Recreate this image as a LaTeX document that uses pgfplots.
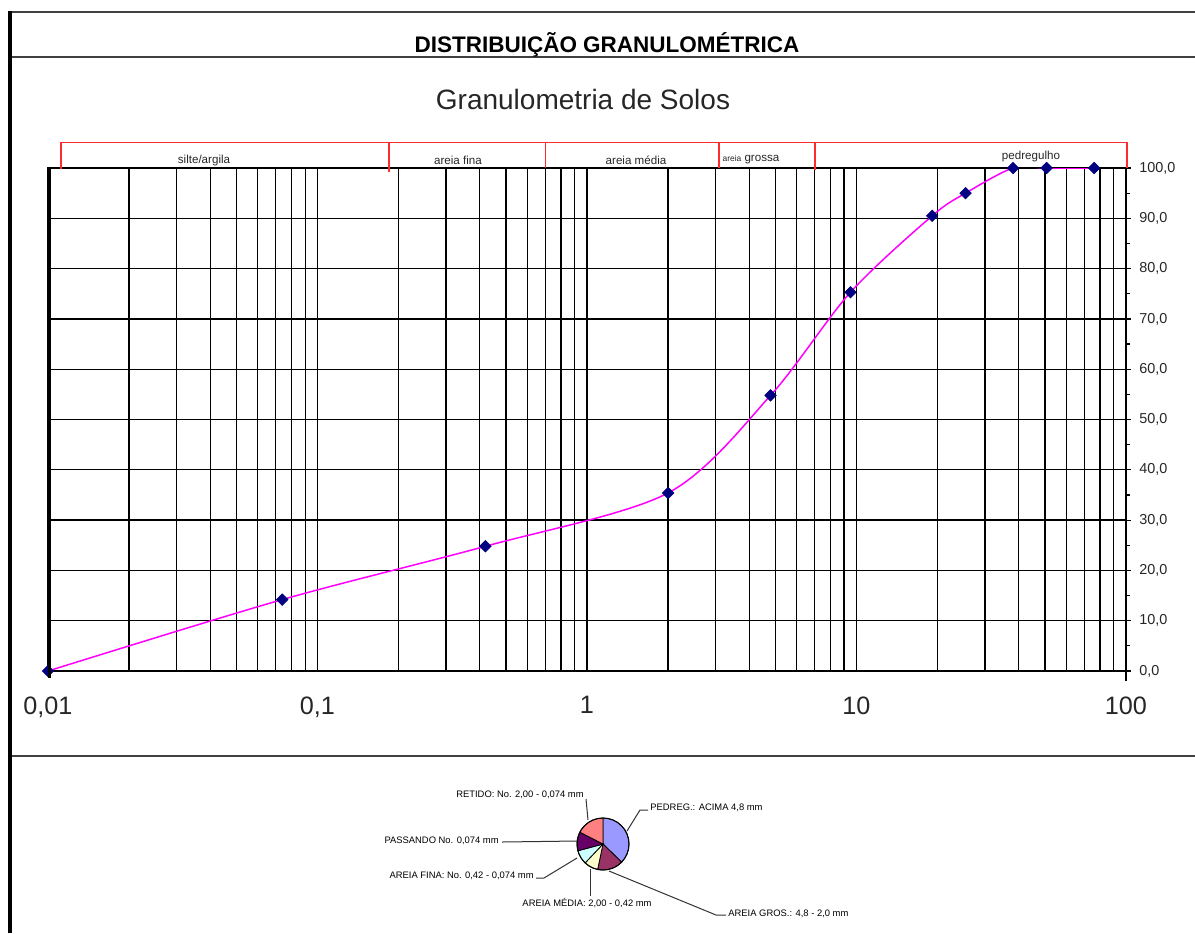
\documentclass[border=0pt]{standalone}
\usepackage{fontspec}
\setmainfont{Liberation Sans}
\usepackage{pgfplots}
\pgfplotsset{compat=1.18}
\definecolor{navy}{HTML}{000080}
\definecolor{curve}{RGB}{255,0,255}
\definecolor{bandred}{HTML}{FF2A2A}
\definecolor{pPed}{HTML}{9999FF}
\definecolor{pGros}{HTML}{993366}
\definecolor{pMed}{HTML}{FFFFCC}
\definecolor{pFina}{HTML}{CCFFFF}
\definecolor{pPass}{HTML}{660066}
\definecolor{pRet}{HTML}{FF8080}
\begin{document}
\begin{tikzpicture}[x=0.5pt,y=-0.5pt]
\path[use as bounding box] (0,0) rectangle (1195,933);
% frame
\draw[line width=0.8pt, black!75] (10,12) -- (1195,12);
\draw[line width=0.8pt, black!75] (10,57) -- (1195,57);
\draw[line width=0.8pt, black!75] (10,756) -- (1195,756);
\draw[line width=2pt, black] (10,11) -- (10,933);
\node[font=\bfseries\fontsize{11.25}{13}\selectfont, anchor=base, inner sep=0pt] at (607,52) {DISTRIBUIÇÃO GRANULOMÉTRICA};
\node[font=\fontsize{14}{16}\selectfont, anchor=base, inner sep=0pt, black!85] at (583,109) {Granulometria de Solos};

\begin{axis}[
  at={(24pt,-335.5pt)}, anchor=south west,
  scale only axis, width=539pt, height=251.5pt,
  xmode=log, xmin=0.01, xmax=100, ymin=0, ymax=100,
  xtick={0.01,0.1,1,10,100},
  xticklabels={{0,01},{0,1},1,10,100},
  minor xtick={0.02,0.03,0.04,0.05,0.06,0.07,0.08,0.09,0.2,0.3,0.4,0.5,0.6,0.7,0.8,0.9,2,3,4,5,6,7,8,9,20,30,40,50,60,70,80,90},
  ytick={0,10,20,30,40,50,60,70,80,90,100},
  yticklabels={{0,0},{10,0},{20,0},{30,0},{40,0},{50,0},{60,0},{70,0},{80,0},{90,0},{100,0}},
  minor ytick={5,15,25,35,45,55,65,75,85,95},
  xmajorgrids, xminorgrids, ymajorgrids,
  major grid style={black, line width=0.65pt},
  minor grid style={black, line width=0.65pt},
  ytick pos=right, yticklabel pos=right,
  tick align=outside,
  major tick length=2.5pt, minor tick length=2pt,
  y tick style={black, line width=0.6pt},
  x tick style={draw=none},
  axis line style={black, line width=0.65pt},
  xticklabel style={font=\fontsize{12.6}{14}\selectfont, inner sep=0pt, anchor=north, yshift=-10pt, black!85},
  yticklabel style={font=\fontsize{7.2}{8}\selectfont, inner sep=0pt, anchor=west, xshift=4pt, black!85},
]
\addplot[curve, line width=0.75pt, smooth, no marks] coordinates {
 (0.01,0) (0.074,14.2) (0.42,24.8) (2.0,35.4) (4.8,54.8) (9.5,75.3)
 (19.1,90.5) (25.4,95.0) (38.1,100) (50.8,100) (76.2,100)};
\addplot[only marks, mark=square*, mark size=2pt, mark options={rotate=45, fill=navy, draw=navy}] coordinates {
 (0.01,0) (0.074,14.2) (0.42,24.8) (2.0,35.4) (4.8,54.8) (9.5,75.3)
 (19.1,90.5) (25.4,95.0) (38.1,100) (50.8,100) (76.2,100)};
\end{axis}
% thick left axis line and bottom extension of right axis
\draw[line width=1.5pt, black] (49,168) -- (49,678);
\draw[line width=0.65pt, black] (1126,671) -- (1126,681);
% red band
\draw[bandred, line width=0.8pt] (61,169) -- (61,142.5) -- (1127,142.5) -- (1127,168);
\draw[bandred, line width=0.8pt] (389,142.5) -- (389,172);
\draw[bandred, line width=0.8pt] (545.4,142.5) -- (545.4,168);
\draw[bandred, line width=0.8pt] (718.7,142.5) -- (718.7,168);
\draw[bandred, line width=0.8pt] (815,142.5) -- (815,170);
\begin{scope}[every node/.style={font=\fontsize{5.8}{6}\selectfont, inner sep=0pt, black!85}]
\node at (204,160) {silte/argila};
\node at (458,160) {areia fina};
\node at (636,160) {areia média};
\node at (751,160) {{\fontsize{4.2}{5}\selectfont areia} grossa};
\node at (1031,156) {pedregulho};
\end{scope}
% pie chart
\pgfmathsetmacro\aA{90-45.2/121.2*360}
\pgfmathsetmacro\aB{\aA-19.4/121.2*360}
\pgfmathsetmacro\aC{\aB-10.6/121.2*360}
\pgfmathsetmacro\aD{\aC-10.6/121.2*360}
\pgfmathsetmacro\aE{\aD-14.2/121.2*360}
\begin{axis}[at={(301.5pt,-422pt)}, anchor=center, hide axis, scale only axis,
  width=26pt, height=26pt, xmin=-1, xmax=1, ymin=-1, ymax=1, clip=false]
\fill[pPed, draw=black, line width=0.4pt] (axis cs:0,0) -- ++(90:13pt) arc[start angle=90, end angle=\aA, radius=13pt] -- cycle;
\fill[pGros, draw=black, line width=0.4pt] (axis cs:0,0) -- ++(\aA:13pt) arc[start angle=\aA, end angle=\aB, radius=13pt] -- cycle;
\fill[pMed, draw=black, line width=0.4pt] (axis cs:0,0) -- ++(\aB:13pt) arc[start angle=\aB, end angle=\aC, radius=13pt] -- cycle;
\fill[pFina, draw=black, line width=0.4pt] (axis cs:0,0) -- ++(\aC:13pt) arc[start angle=\aC, end angle=\aD, radius=13pt] -- cycle;
\fill[pPass, draw=black, line width=0.4pt] (axis cs:0,0) -- ++(\aD:13pt) arc[start angle=\aD, end angle=\aE, radius=13pt] -- cycle;
\fill[pRet, draw=black, line width=0.4pt] (axis cs:0,0) -- ++(\aE:13pt) arc[start angle=\aE, end angle=-270, radius=13pt] -- cycle;
\draw[black, line width=0.5pt] (axis cs:0,0) circle[radius=13pt];
\end{axis}
% leader lines and labels
\begin{scope}[black!80, line width=0.5pt]
\draw (627,831) -- (640,810) -- (648,810);
\draw (609,871) -- (716,915) -- (726,915);
\draw (590,869) -- (590,896);
\draw (577,858) -- (544,878) -- (536,878);
\draw (577,841) -- (502,842);
\draw (588,820) -- (586,799);
\end{scope}
\begin{scope}[every node/.style={font=\fontsize{4.7}{5}\selectfont, inner sep=0pt, black}]
\node[anchor=west] at (650,808) {PEDREG.: ACIMA 4,8 mm};
\node[anchor=west] at (728,914) {AREIA GROS.: 4,8 - 2,0 mm};
\node at (587,903) {AREIA MÉDIA: 2,00 - 0,42 mm};
\node[anchor=east] at (534,876) {AREIA FINA: No. 0,42 - 0,074 mm};
\node[anchor=east] at (499,841) {PASSANDO No. 0,074 mm};
\node[anchor=east] at (584,795) {RETIDO: No. 2,00 - 0,074 mm};
\end{scope}
\end{tikzpicture}
\end{document}
